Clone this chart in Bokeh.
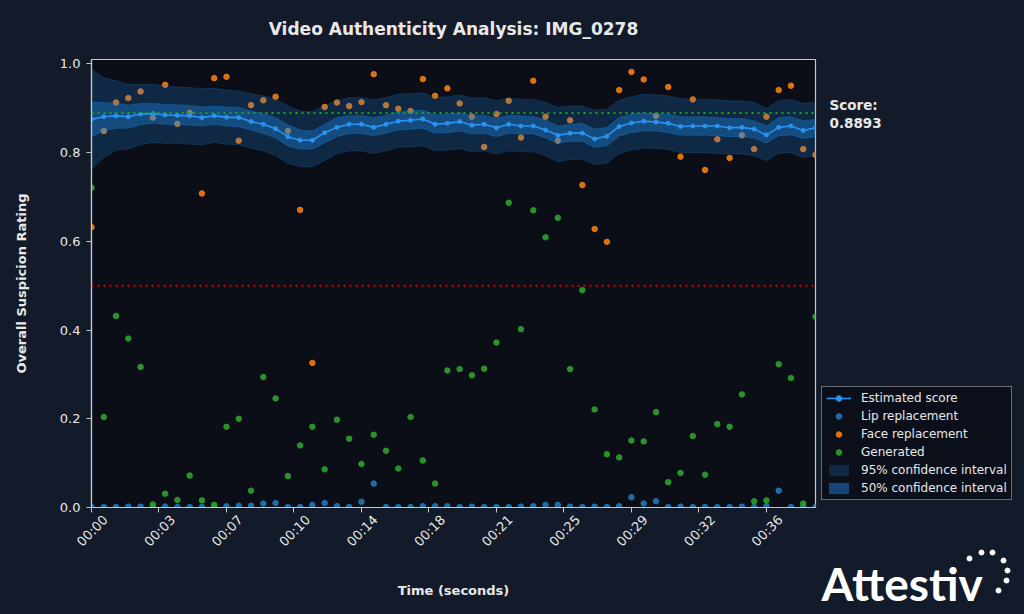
from bokeh.plotting import figure
from bokeh.layouts import row
from bokeh.models import (Span, Legend, LegendItem, Label, FixedTicker, Range1d, LinearAxis)
from bokeh.embed import file_html
from bokeh.resources import INLINE

# ---------------- data ----------------
title_text = "Video Authenticity Analysis: IMG_0278"
score = 0.8893
threshold = 0.5
sample_step = 0.66  # seconds between analysed samples

estimated = [0.875, 0.881, 0.883, 0.881, 0.887, 0.888, 0.885, 0.884, 0.883, 0.879,
             0.883, 0.880, 0.879, 0.870, 0.864, 0.854, 0.836, 0.828, 0.828, 0.845,
             0.857, 0.864, 0.864, 0.857, 0.864, 0.871, 0.873, 0.876, 0.864, 0.866,
             0.870, 0.862, 0.864, 0.856, 0.864, 0.860, 0.860, 0.851, 0.839, 0.844,
             0.844, 0.831, 0.837, 0.859, 0.867, 0.871, 0.869, 0.866, 0.859, 0.860,
             0.860, 0.860, 0.856, 0.857, 0.853, 0.840, 0.857, 0.860, 0.850, 0.856]

upper95 = [0.988, 0.969, 0.962, 0.954, 0.954, 0.954, 0.950, 0.948, 0.947, 0.944,
           0.945, 0.941, 0.939, 0.933, 0.928, 0.920, 0.905, 0.894, 0.892, 0.906,
           0.917, 0.924, 0.924, 0.919, 0.924, 0.932, 0.933, 0.935, 0.924, 0.926,
           0.930, 0.923, 0.924, 0.917, 0.923, 0.920, 0.920, 0.913, 0.902, 0.905,
           0.905, 0.896, 0.898, 0.918, 0.926, 0.932, 0.930, 0.928, 0.922, 0.920,
           0.920, 0.919, 0.917, 0.917, 0.913, 0.900, 0.917, 0.920, 0.911, 0.914]

upper50 = [0.914, 0.913, 0.911, 0.907, 0.911, 0.911, 0.909, 0.908, 0.907, 0.903,
           0.905, 0.903, 0.902, 0.894, 0.888, 0.879, 0.863, 0.851, 0.849, 0.864,
           0.879, 0.884, 0.884, 0.879, 0.884, 0.893, 0.894, 0.896, 0.885, 0.887,
           0.890, 0.883, 0.884, 0.878, 0.884, 0.883, 0.881, 0.874, 0.860, 0.864,
           0.866, 0.853, 0.857, 0.879, 0.887, 0.890, 0.888, 0.887, 0.881, 0.881,
           0.881, 0.879, 0.877, 0.877, 0.872, 0.860, 0.879, 0.881, 0.872, 0.875]

lower50 = [0.836, 0.849, 0.855, 0.855, 0.863, 0.866, 0.864, 0.863, 0.862, 0.860,
           0.864, 0.860, 0.858, 0.851, 0.843, 0.833, 0.815, 0.808, 0.808, 0.822,
           0.836, 0.843, 0.843, 0.838, 0.844, 0.851, 0.853, 0.855, 0.844, 0.845,
           0.849, 0.842, 0.843, 0.836, 0.843, 0.842, 0.842, 0.833, 0.821, 0.825,
           0.825, 0.812, 0.815, 0.837, 0.845, 0.849, 0.849, 0.845, 0.839, 0.839,
           0.839, 0.838, 0.836, 0.836, 0.833, 0.821, 0.838, 0.840, 0.832, 0.836]

lower95 = [0.763, 0.789, 0.806, 0.808, 0.818, 0.823, 0.821, 0.821, 0.819, 0.818,
           0.823, 0.819, 0.818, 0.810, 0.804, 0.793, 0.776, 0.768, 0.768, 0.782,
           0.798, 0.804, 0.804, 0.798, 0.804, 0.812, 0.813, 0.815, 0.804, 0.806,
           0.809, 0.802, 0.804, 0.797, 0.804, 0.802, 0.802, 0.793, 0.779, 0.785,
           0.785, 0.773, 0.776, 0.798, 0.806, 0.810, 0.810, 0.807, 0.800, 0.800,
           0.800, 0.798, 0.797, 0.797, 0.793, 0.782, 0.798, 0.800, 0.789, 0.793]

lip = [0.001, 0.001, 0.001, 0.002, 0.002, 0.001, 0.002, 0.001, 0.001, 0.001,
       0.001, 0.003, 0.004, 0.004, 0.009, 0.010, 0.001, 0.001, 0.006, 0.010,
       0.003, 0.001, 0.013, 0.054, 0.001, 0.001, 0.001, 0.003, 0.003, 0.003,
       0.001, 0.002, 0.001, 0.001, 0.001, 0.002, 0.003, 0.006, 0.006, 0.002,
       0.001, 0.002, 0.001, 0.003, 0.023, 0.009, 0.014, 0.001, 0.002, 0.001,
       0.001, 0.001, 0.001, 0.002, 0.001, 0.003, 0.038, 0.001, 0.002, 0.001]

face = [0.632, 0.849, 0.913, 0.923, 0.938, 0.879, 0.953, 0.865, 0.890, 0.708,
        0.968, 0.971, 0.827, 0.907, 0.918, 0.926, 0.849, 0.671, 0.326, 0.903,
        0.913, 0.905, 0.914, 0.977, 0.907, 0.899, 0.894, 0.966, 0.928, 0.945,
        0.911, 0.881, 0.813, 0.887, 0.917, 0.834, 0.962, 0.881, 0.827, 0.873,
        0.727, 0.628, 0.599, 0.941, 0.982, 0.965, 0.883, 0.948, 0.791, 0.920,
        0.761, 0.830, 0.788, 0.839, 0.808, 0.881, 0.941, 0.951, 0.808, 0.795]

generated = [0.721, 0.204, 0.432, 0.381, 0.317, 0.007, 0.031, 0.017, 0.072, 0.016,
             0.006, 0.182, 0.200, 0.038, 0.294, 0.246, 0.071, 0.140, 0.182, 0.086,
             0.198, 0.155, 0.098, 0.164, 0.128, 0.088, 0.204, 0.106, 0.054, 0.309,
             0.312, 0.298, 0.313, 0.372, 0.687, 0.402, 0.670, 0.609, 0.653, 0.312,
             0.490, 0.221, 0.120, 0.113, 0.151, 0.149, 0.215, 0.057, 0.078, 0.161,
             0.074, 0.188, 0.182, 0.255, 0.014, 0.016, 0.323, 0.292, 0.009, 0.430]

tick_seconds = [0, 3.63, 7.26, 10.89, 14.52, 18.15, 21.78, 25.41, 29.04, 32.67, 36.3]
tick_labels = ["00:00", "00:03", "00:07", "00:10", "00:14", "00:18",
               "00:21", "00:25", "00:29", "00:32", "00:36"]

times = [round(i * sample_step, 4) for i in range(len(estimated))]

# ---------------- style ----------------
PAGE_BG = "#131a29"
PLOT_BG = "#0b0e17"
FG = "#e8e8e8"
AXIS = "#c8c8c8"
FONT = "DejaVu Sans"
BAND = "#1e88e5"
C_EST = "#2a93f0"
C_LIP = "#1f77b4"
C_FACE = "#f07b12"
C_GEN = "#2ca02c"

FRAME_W, FRAME_H = 724, 448
LEFT, TOP, RIGHT, BOTTOM = 91, 59, 2, 107
MAIN_W = LEFT + FRAME_W + RIGHT
PAGE_W, PAGE_H = 1024, 614

x_end = times[-1]
y_top = 1.01

p = figure(frame_width=FRAME_W, frame_height=FRAME_H, output_backend="svg",
           toolbar_location=None,
           x_range=Range1d(0, x_end), y_range=Range1d(0, y_top),
           min_border_left=LEFT, min_border_right=RIGHT, min_border_top=TOP,
           min_border_bottom=BOTTOM,
           background_fill_color=PLOT_BG, border_fill_color=PAGE_BG)
p.frame_align = False

p.title.text = title_text
p.title.align = "center"
p.title.vertical_align = "top"
p.title.text_font = FONT
p.title.text_font_size = "17px"
p.title.text_font_style = "bold"
p.title.text_color = FG
p.title.standoff = 37

p.grid.visible = False
p.outline_line_color = AXIS
p.outline_line_width = 1.2

# tick labels are centred under their ticks (matplotlib style): a second, tick-less
# axis carries the rotated labels, shifted by half their width
label_shift = 14.0 * x_end / FRAME_W
label_axis = LinearAxis(ticker=FixedTicker(ticks=[t + label_shift for t in tick_seconds]),
                        major_label_overrides={t + label_shift: s for t, s in zip(tick_seconds, tick_labels)})
p.add_layout(label_axis, "below")

def style_axis(ax):
    ax.axis_line_color = AXIS
    ax.axis_line_width = 1.2
    ax.major_tick_line_color = AXIS
    ax.major_tick_out = 5
    ax.major_tick_in = 0
    ax.minor_tick_line_color = None
    ax.major_label_text_color = FG
    ax.major_label_text_font = FONT
    ax.major_label_text_font_size = "13px"
    ax.axis_label_text_color = FG
    ax.axis_label_text_font = FONT
    ax.axis_label_text_font_size = "13px"
    ax.axis_label_text_font_style = "bold"

xa = p.xaxis[0]
ya = p.yaxis[0]
for ax in (xa, ya, label_axis):
    style_axis(ax)

ya.axis_label = "Overall Suspicion Rating"
ya.ticker = FixedTicker(ticks=[0, 0.2, 0.4, 0.6, 0.8, 1.0])
ya.major_label_overrides = {0: "0.0", 0.2: "0.2", 0.4: "0.4", 0.6: "0.6", 0.8: "0.8", 1.0: "1.0"}
ya.major_label_standoff = 6
ya.axis_label_standoff = 28

xa.ticker = FixedTicker(ticks=tick_seconds)
xa.major_label_overrides = {t: "" for t in tick_seconds}
xa.major_label_text_font_size = "1px"
xa.major_label_standoff = 0

label_axis.axis_line_color = None
label_axis.major_tick_out = 0
label_axis.major_tick_line_color = None
label_axis.major_label_orientation = 0.785398
label_axis.major_label_standoff = 5
label_axis.axis_label = "Time (seconds)"
label_axis.axis_label_standoff = 25

# ---------------- glyphs ----------------
lip_r = p.scatter(times, lip, size=5.5, color=C_LIP, alpha=0.9)
face_r = p.scatter(times, face, size=5.5, color=C_FACE, alpha=0.9)
gen_r = p.scatter(times, generated, size=5.5, color=C_GEN, alpha=0.9)

p.varea(x=times, y1=lower95, y2=upper95, fill_color=BAND, fill_alpha=0.22)
p.line(times, upper95, line_color=BAND, line_alpha=0.22, line_width=1)
p.line(times, lower95, line_color=BAND, line_alpha=0.22, line_width=1)
p.varea(x=times, y1=lower50, y2=upper50, fill_color=BAND, fill_alpha=0.38)
p.line(times, upper50, line_color=BAND, line_alpha=0.3, line_width=1)
p.line(times, lower50, line_color=BAND, line_alpha=0.3, line_width=1)

p.add_layout(Span(location=threshold, dimension="width", line_color="#d00000",
                  line_width=2, line_dash="2 4"))
p.add_layout(Span(location=score, dimension="width", line_color="#1fa01f",
                  line_width=2, line_dash="2 4"))

p.line(times, estimated, line_color=C_EST, line_width=1.6)
p.scatter(times, estimated, size=4, color=C_EST)

# ---------------- right-hand column (score, legend, logo) ----------------
side = figure(width=PAGE_W - MAIN_W, height=PAGE_H,
              output_backend="svg", toolbar_location=None,
              x_range=Range1d(MAIN_W, PAGE_W), y_range=Range1d(PAGE_H, 0),
              x_axis_location=None, y_axis_location=None, min_border=0,
              background_fill_color=PAGE_BG, border_fill_color=PAGE_BG,
              outline_line_color=None)
side.frame_align = False
side.grid.visible = False

# legend samples (drawn off-canvas; only their legend swatches show)
off = [-100.0]
s_line = side.line(off, off, line_color=C_EST, line_width=1.6)
s_pts = side.scatter(off, off, size=4, color=C_EST)
s_lip = side.scatter(off, off, size=5.5, color=C_LIP, alpha=0.9)
s_face = side.scatter(off, off, size=5.5, color=C_FACE, alpha=0.9)
s_gen = side.scatter(off, off, size=5.5, color=C_GEN, alpha=0.9)
s_95 = side.varea(x=off, y1=off, y2=off, fill_color=BAND, fill_alpha=0.22)
s_50 = side.varea(x=off, y1=off, y2=off, fill_color=BAND, fill_alpha=0.45)

legend = Legend(items=[
    LegendItem(label="Estimated score", renderers=[s_line, s_pts]),
    LegendItem(label="Lip replacement", renderers=[s_lip]),
    LegendItem(label="Face replacement", renderers=[s_face]),
    LegendItem(label="Generated", renderers=[s_gen]),
    LegendItem(label="95% confidence interval", renderers=[s_95]),
    LegendItem(label="50% confidence interval", renderers=[s_50]),
], location=(821 - MAIN_W, PAGE_H - 500))
legend.background_fill_color = PLOT_BG
legend.background_fill_alpha = 0.9
legend.border_line_color = AXIS
legend.border_line_width = 1
legend.label_text_color = FG
legend.label_text_font = FONT
legend.label_text_font_size = "12px"
legend.glyph_width = 25
legend.glyph_height = 14
legend.label_height = 14
legend.spacing = 4
legend.padding = 4
legend.margin = 0
legend.label_standoff = 10
side.add_layout(legend, "center")

side.add_layout(Label(x=829, y=96, text="Score:\n" + f"{score:.4f}",
                      text_font=FONT, text_font_size="13.5px", text_font_style="bold",
                      text_color=FG, text_baseline="top", text_align="left",
                      text_line_height=1.15))

side.add_layout(Label(x=821, y=583, text="Attestiv",
                      text_font="Lato", text_font_size="46px", text_font_style="bold",
                      text_color="#ffffff", text_baseline="alphabetic", text_align="left"))

logo_dot_x = [969, 981, 992, 1003, 1007, 1006, 998]
logo_dot_y = [558, 552, 552, 560, 570, 580, 590]
side.scatter(logo_dot_x, logo_dot_y, size=5, color="#ffffff")

layout = row(p, side, spacing=0)

html = file_html(layout, INLINE)
html = html.replace("</head>", "<style>html,body{background:" + PAGE_BG + ";}</style></head>", 1)
open("out.html", "w").write(html)
